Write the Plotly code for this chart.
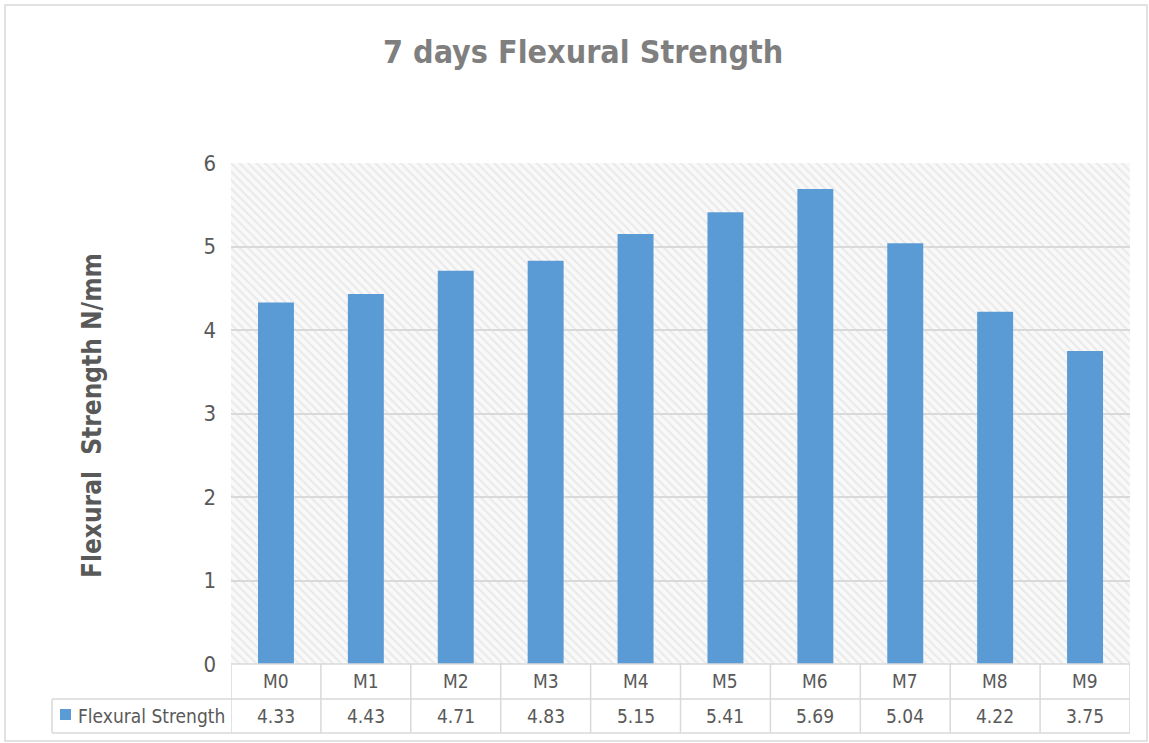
import plotly.graph_objects as go

categories = ["M0", "M1", "M2", "M3", "M4", "M5", "M6", "M7", "M8", "M9"]
strength = [4.33, 4.43, 4.71, 4.83, 5.15, 5.41, 5.69, 5.04, 4.22, 3.75]
series_name = "Flexural Strength"
title_text = "7 days Flexural Strength"
y_title = "Flexural  Strength N/mm"
y_ticks = [0, 1, 2, 3, 4, 5, 6]

W, H = 1149, 743
L, R, T, B = 231, 19, 163, 79
PW, PH = W - L - R, H - T - B

def px(x):
    return (x - L) / PW

def py(y):
    return (H - B - y) / PH

FONT = "DejaVu Sans Condensed, Liberation Sans Narrow, Arial Narrow, sans-serif"
GRID = "#d9d9d9"
TXT = "#595959"
BLUE = "#5b9bd5"

fig = go.Figure()

# hatched background for plot area (on the lower x axis so bars draw above it)
fig.add_trace(go.Bar(
    x=[0], y=[max(y_ticks)], width=1, xaxis="x", yaxis="y",
    marker=dict(color="rgba(0,0,0,0)", line=dict(width=0),
                pattern=dict(shape="\\", fgcolor="#dadada", fillmode="overlay", size=6, solidity=0.35)),
    hoverinfo="skip", showlegend=False,
))

fig.add_trace(go.Bar(
    x=categories, y=strength, width=0.4, name=series_name, xaxis="x2", yaxis="y",
    marker=dict(color=BLUE, line=dict(width=0)), showlegend=False,
))

shapes = []
annotations = []
LW = 1.5
# table horizontal lines
shapes.append(dict(type="line", xref="paper", yref="paper", x0=0, x1=1,
                   y0=py(664), y1=py(664), line=dict(color=GRID, width=LW)))
for yy in [699, 733]:
    shapes.append(dict(type="line", xref="paper", yref="paper", x0=px(52), x1=1,
                       y0=py(yy), y1=py(yy), line=dict(color=GRID, width=LW)))
n = len(categories)
for i in range(n + 1):
    shapes.append(dict(type="line", xref="x2", yref="paper", x0=i - 0.5, x1=i - 0.5,
                       y0=py(664), y1=py(733), line=dict(color=GRID, width=LW)))
shapes.append(dict(type="line", xref="paper", yref="paper", x0=px(52), x1=px(52),
                   y0=py(699), y1=py(733), line=dict(color=GRID, width=LW)))
# outer chart border
shapes.append(dict(type="rect", xref="paper", yref="paper", x0=px(5), x1=px(1147),
                   y0=py(741), y1=py(5), line=dict(color="#d9d9d9", width=1.5)))
# legend key square
shapes.append(dict(type="rect", xref="paper", yref="paper", x0=px(60), x1=px(71),
                   y0=py(720), y1=py(709), fillcolor=BLUE, line=dict(width=0)))

tf = dict(family=FONT, size=19, color=TXT)
for c, v in zip(categories, strength):
    annotations.append(dict(x=c, y=py(681), xref="x2", yref="paper", text=c,
                            xanchor="center", yanchor="middle", showarrow=False, font=tf))
    annotations.append(dict(x=c, y=py(716), xref="x2", yref="paper", text=f"{v:.2f}",
                            xanchor="center", yanchor="middle", showarrow=False, font=tf))

annotations.append(dict(x=px(76), y=py(716), xref="paper", yref="paper", text=series_name,
                        xanchor="left", yanchor="middle", showarrow=False, font=tf))
annotations.append(dict(x=px(92), y=py(416), xref="paper", yref="paper", text=f"<b>{y_title}</b>",
                        xanchor="center", yanchor="middle", textangle=-90, showarrow=False,
                        font=dict(family=FONT, size=26, color=TXT)))
annotations.append(dict(x=px(583), y=py(52), xref="paper", yref="paper", text=f"<b>{title_text}</b>",
                        xanchor="center", yanchor="middle", showarrow=False,
                        font=dict(family=FONT, size=32, color="#7f7f7f")))

fig.update_layout(
    width=W, height=H,
    margin=dict(l=L, r=R, t=T, b=B, autoexpand=False),
    paper_bgcolor="white", plot_bgcolor="#f9f9f9",
    barmode="overlay",
    xaxis=dict(range=[-0.5, 0.5], visible=False, fixedrange=True),
    xaxis2=dict(range=[-0.5, n - 0.5], overlaying="x", showticklabels=False, showgrid=False,
                zeroline=False, showline=False, ticks=""),
    yaxis=dict(range=[0, max(y_ticks)], tickvals=y_ticks, showgrid=True, gridcolor=GRID, gridwidth=LW,
               zeroline=False, showline=False, ticks="", ticklabelstandoff=14,
               tickfont=dict(family=FONT, size=22, color=TXT)),
    shapes=shapes, annotations=annotations,
)

fig.write_html("out.html", config={"displayModeBar": False},
               post_script="document.body.style.margin='0';document.body.style.overflow='hidden';")
